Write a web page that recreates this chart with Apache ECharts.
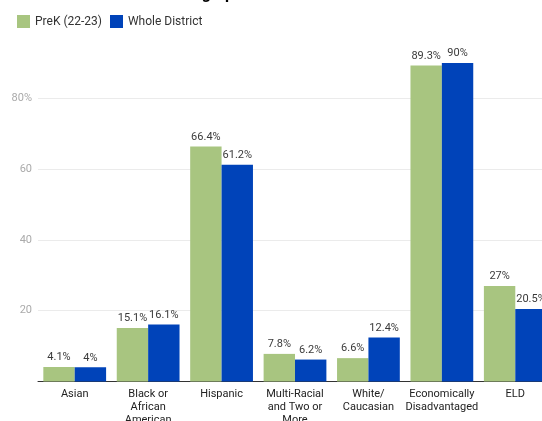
<!DOCTYPE html>
<html>
<head>
<meta charset="utf-8">
<script src="https://cdn.jsdelivr.net/npm/echarts@6/dist/echarts.min.js"></script>
<style>
  html, body { margin: 0; padding: 0; background: #fff; }
  #chart { width: 542px; height: 421px; }
</style>
</head>
<body>
<div id="chart"></div>
<script>
// Student groups along the x axis
const categories = [
  'Asian',
  'Black or\nAfrican\nAmerican',
  'Hispanic',
  'Multi-Racial\nand Two or\nMore',
  'White/\nCaucasian',
  'Economically\nDisadvantaged',
  'ELD'
];
// Share of students in each group (%)
const prekValues = [4.1, 15.1, 66.4, 7.8, 6.6, 89.3, 27];
const districtValues = [4, 16.1, 61.2, 6.2, 12.4, 90, 20.5];
const seriesNames = ['PreK (22-23)', 'Whole District'];
const yTicks = [0, 20, 40, 60, 80, 100];

const FONT = 'Roboto';
const chart = echarts.init(document.getElementById('chart'), null, { renderer: 'canvas' });

const barLabel = {
  show: true,
  position: 'top',
  distance: 4,
  fontFamily: FONT,
  fontSize: 11,
  color: '#3a3a3a',
  formatter: p => p.value + '%'
};

chart.setOption({
  animation: false,
  textStyle: { fontFamily: FONT },
  title: {
    text: 'PreK Demographics',
    left: 116,
    top: -18,
    textStyle: { fontFamily: FONT, fontSize: 16, fontWeight: 'bold', color: '#000' }
  },
  legend: {
    left: 12,
    top: 10,
    itemWidth: 13,
    itemHeight: 13,
    itemGap: 8,
    icon: 'rect',
    textStyle: { fontFamily: FONT, fontSize: 12, color: '#333' },
    data: seriesNames
  },
  grid: {
    left: 38, right: -10, top: 27.5, bottom: 39.5,
    containLabel: false,
    outerBoundsMode: 'none'
  },
  xAxis: {
    type: 'category',
    data: categories,
    axisLine: { lineStyle: { color: '#333', width: 1 } },
    axisTick: { show: false },
    axisLabel: {
      interval: 0,
      margin: 6,
      fontFamily: FONT,
      fontSize: 11,
      lineHeight: 13,
      color: '#222',
      align: 'center'
    }
  },
  yAxis: {
    type: 'value',
    min: yTicks[0],
    max: yTicks[yTicks.length - 1],
    interval: yTicks[1] - yTicks[0],
    axisLine: { show: false },
    axisTick: { show: false },
    splitLine: { show: true, showMaxLine: false, lineStyle: { color: '#ebebeb', width: 1 } },
    axisLabel: {
      showMinLabel: false,
      showMaxLabel: false,
      margin: 6,
      fontFamily: FONT,
      fontSize: 11,
      color: '#aaa',
      formatter: v => (v === 80 ? v + '%' : String(v))
    }
  },
  series: [
    {
      name: seriesNames[0],
      type: 'bar',
      data: prekValues,
      barGap: '0%',
      barCategoryGap: '14.5%',
      itemStyle: { color: '#a8c580' },
      label: barLabel
    },
    {
      name: seriesNames[1],
      type: 'bar',
      data: districtValues,
      barGap: '0%',
      barCategoryGap: '14.5%',
      itemStyle: { color: '#0043b9' },
      label: barLabel
    }
  ]
});
</script>
</body>
</html>
